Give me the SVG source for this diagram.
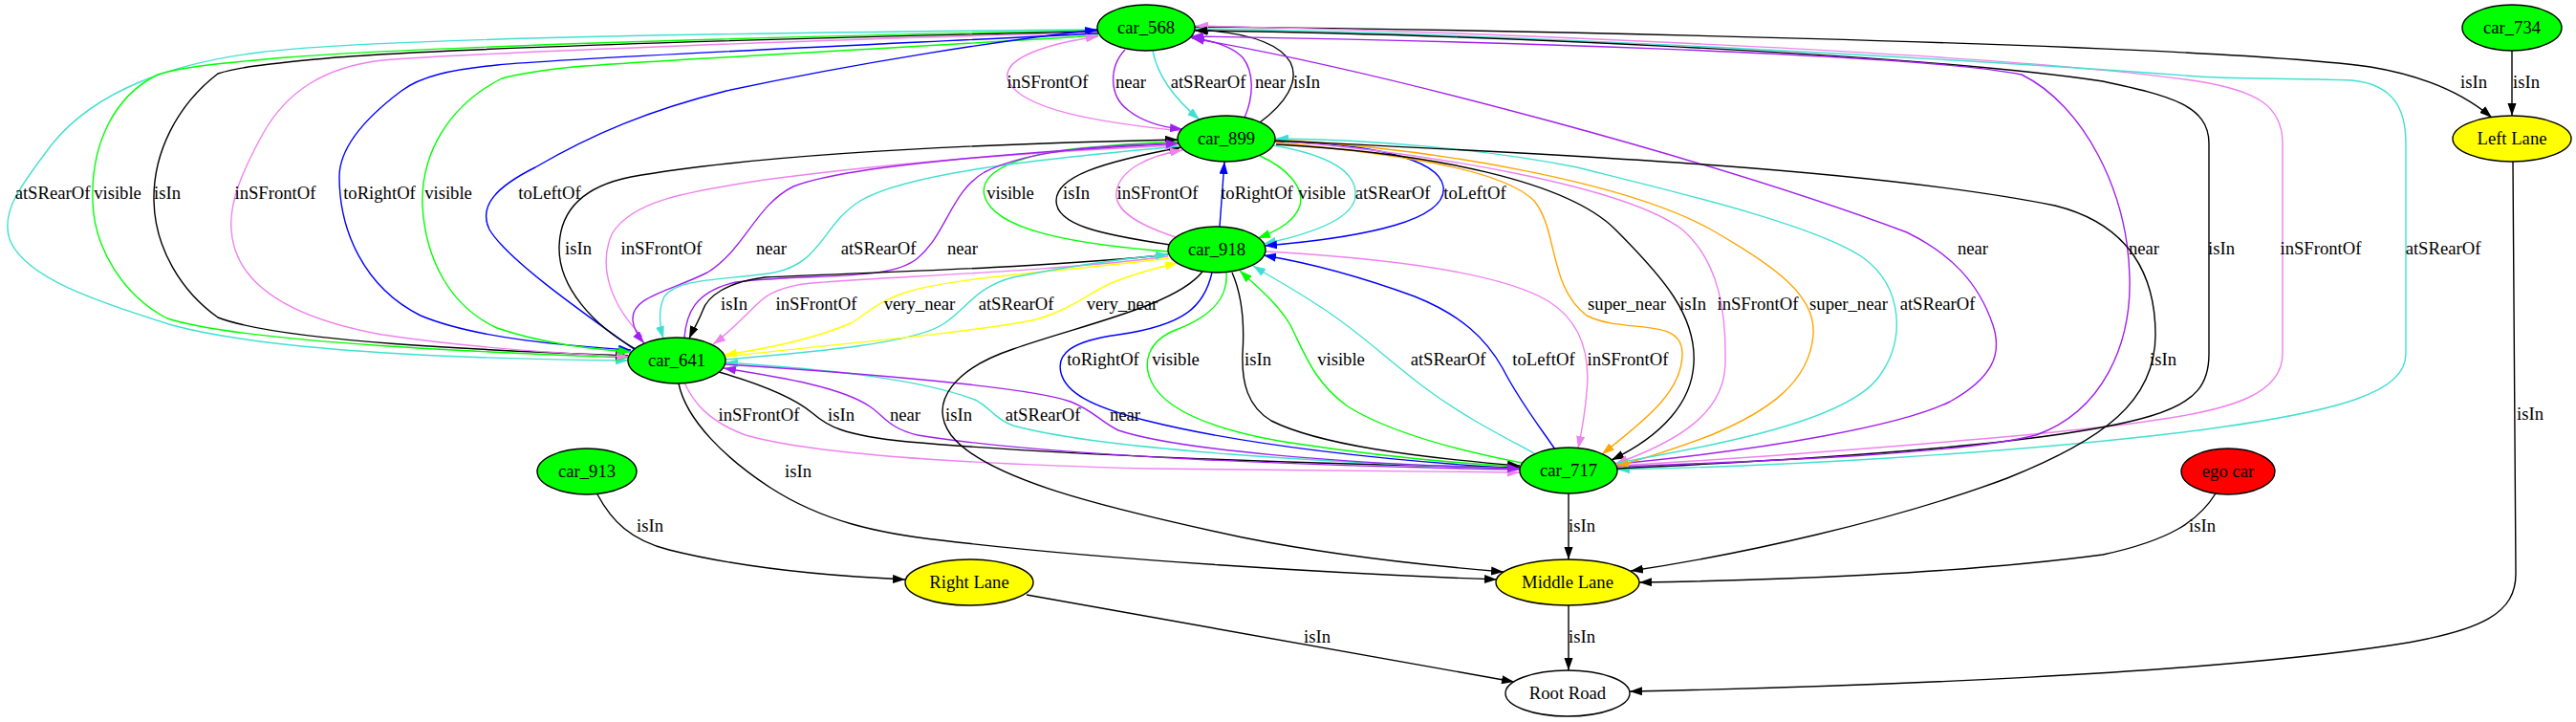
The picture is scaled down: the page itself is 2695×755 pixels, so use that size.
<svg xmlns="http://www.w3.org/2000/svg" width="2695" height="755" viewBox="0 0 2695 755">
<style>
text{font-family:"Liberation Serif","Times New Roman",serif;font-size:18.67px;text-anchor:middle;fill:#000}
.n{stroke:#000;stroke-width:1.4}
.e path{fill:none;stroke-width:1.4}
.k{stroke:#000;marker-end:url(#ak)}
.c{stroke:#40e0d0;marker-end:url(#ac)}
.g{stroke:#00ff00;marker-end:url(#ag)}
.v{stroke:#ee82ee;marker-end:url(#av)}
.b{stroke:#0000ff;marker-end:url(#ab)}
.p{stroke:#a020f0;marker-end:url(#ap)}
.o{stroke:#ffa500;marker-end:url(#ao)}
.y{stroke:#ffff00;marker-end:url(#ay)}
</style>
<defs>
<marker id="ak" viewBox="0 0 10 7" refX="10" refY="3.5" markerWidth="13" markerHeight="9.1" markerUnits="userSpaceOnUse" orient="auto"><path d="M0,0L10,3.5L0,7z" fill="#000"/></marker>
<marker id="ac" viewBox="0 0 10 7" refX="10" refY="3.5" markerWidth="13" markerHeight="9.1" markerUnits="userSpaceOnUse" orient="auto"><path d="M0,0L10,3.5L0,7z" fill="#40e0d0"/></marker>
<marker id="ag" viewBox="0 0 10 7" refX="10" refY="3.5" markerWidth="13" markerHeight="9.1" markerUnits="userSpaceOnUse" orient="auto"><path d="M0,0L10,3.5L0,7z" fill="#00ff00"/></marker>
<marker id="av" viewBox="0 0 10 7" refX="10" refY="3.5" markerWidth="13" markerHeight="9.1" markerUnits="userSpaceOnUse" orient="auto"><path d="M0,0L10,3.5L0,7z" fill="#ee82ee"/></marker>
<marker id="ab" viewBox="0 0 10 7" refX="10" refY="3.5" markerWidth="13" markerHeight="9.1" markerUnits="userSpaceOnUse" orient="auto"><path d="M0,0L10,3.5L0,7z" fill="#0000ff"/></marker>
<marker id="ap" viewBox="0 0 10 7" refX="10" refY="3.5" markerWidth="13" markerHeight="9.1" markerUnits="userSpaceOnUse" orient="auto"><path d="M0,0L10,3.5L0,7z" fill="#a020f0"/></marker>
<marker id="ao" viewBox="0 0 10 7" refX="10" refY="3.5" markerWidth="13" markerHeight="9.1" markerUnits="userSpaceOnUse" orient="auto"><path d="M0,0L10,3.5L0,7z" fill="#ffa500"/></marker>
<marker id="ay" viewBox="0 0 10 7" refX="10" refY="3.5" markerWidth="13" markerHeight="9.1" markerUnits="userSpaceOnUse" orient="auto"><path d="M0,0L10,3.5L0,7z" fill="#ffff00"/></marker>
</defs>
<rect width="2695" height="755" fill="#fff"/>
<g id="edges" class="e">
<!-- car_568 -> car_641 left bundle -->
<path class="c" d="M1149,31 C900,33 400,38 270,55 C180,66 100,95 55,150 C25,190 0,220 10,250 C25,290 100,315 180,340 C300,372 550,376 657,377"/>
<text x="55" y="208">atSRearOf</text>
<path class="g" d="M1149,32 C900,36 450,48 300,60 C230,66 190,70 165,78 C120,100 95,150 97,210 C98,260 130,310 175,333 C260,360 550,370 657,374"/>
<text x="123" y="208">visible</text>
<path class="k" d="M1149,33 C900,38 450,50 330,62 C280,67 250,70 228,77 C185,110 160,160 161,210 C162,260 190,305 228,332 C300,360 560,368 657,372"/>
<text x="175" y="208">isIn</text>
<path class="v" d="M1149,34 C900,40 500,55 400,63 C340,70 300,95 275,140 C250,185 240,215 242,240 C245,290 290,330 400,350 C500,365 600,370 658,373"/>
<text x="288" y="208">inSFrontOf</text>
<path class="b" d="M1149,35 C950,45 600,60 520,68 C470,73 440,80 420,95 C380,125 355,155 355,185 C355,240 380,300 440,330 C500,355 600,362 660,366"/>
<text x="397" y="208">toRightOf</text>
<path class="g" d="M1149,37 C1000,47 700,62 600,70 C560,74 540,78 525,82 C470,110 440,160 442,215 C445,270 470,320 520,343 C570,360 620,365 660,368"/>
<text x="469" y="208">visible</text>
<path class="b" d="M663,365 C600,320 530,270 512,240 C500,215 520,195 560,175 C620,140 680,115 760,95 C900,65 1050,42 1148,31"/>
<text x="575" y="208">toLeftOf</text>
<!-- car_568 <-> car_899 -->
<path class="v" d="M1236,137 C1150,128 1070,115 1055,85 C1045,60 1100,45 1149,38"/>
<text x="1096" y="92">inSFrontOf</text>
<path class="p" d="M1177,52 C1160,70 1160,100 1180,115 C1195,127 1215,133 1237,135"/>
<text x="1183" y="92">near</text>
<path class="c" d="M1206,53 C1210,75 1225,100 1255,125"/>
<text x="1264" y="92">atSRearOf</text>
<path class="p" d="M1302,123 C1312,100 1312,75 1300,60 C1290,50 1275,44 1246,39"/>
<text x="1329" y="92">near</text>
<path class="k" d="M1318,128 C1345,108 1360,85 1350,65 C1335,40 1290,33 1251,31"/>
<text x="1367" y="92">isIn</text>
<!-- to Left Lane -->
<path class="k" d="M1250,28 C1500,30 2300,45 2480,70 C2540,80 2580,100 2607,123"/>
<text x="2588" y="92">isIn</text>
<path class="k" d="M2628,53 L2628,121"/>
<text x="2643" y="92">isIn</text>
<!-- car_568 <-> car_717 right side -->
<path class="v" d="M1692,487 C1850,478 2150,455 2250,440 C2340,428 2388,410 2388,370 L2388,150 C2388,110 2360,95 2300,85 C2100,55 1500,32 1251,27"/>
<text x="2428" y="266">inSFrontOf</text>
<path class="c" d="M1250,30 C1600,35 2100,65 2300,80 C2350,83 2420,82 2460,84 C2505,88 2517,115 2517,150 L2517,370 C2517,410 2450,430 2300,450 C2100,475 1850,488 1692,491"/>
<text x="2556" y="266">atSRearOf</text>
<path class="k" d="M1692,490 C1900,480 2150,465 2250,435 C2300,420 2311,400 2311,370 L2311,150 C2311,110 2270,100 2200,85 C2000,55 1500,35 1250,32"/>
<text x="2324" y="266">isIn</text>
<path class="p" d="M1692,488 C1850,482 2050,475 2130,455 C2200,430 2230,360 2228,290 C2226,200 2180,110 2115,78 C2000,55 1500,42 1246,38"/>
<text x="2243" y="266">near</text>
<path class="p" d="M1692,485 C1850,470 1990,445 2040,420 C2085,395 2095,370 2085,340 C2070,295 2040,265 1995,243 C1800,170 1450,75 1247,40"/>
<text x="2064" y="266">near</text>
<!-- car_899 <-> car_918 -->
<path class="g" d="M1222,263 C1120,255 1040,240 1030,205 C1022,175 1080,160 1130,155 C1170,151 1205,149 1232,148"/>
<text x="1057" y="208">visible</text>
<path class="k" d="M1224,256 C1150,245 1105,235 1105,210 C1105,185 1150,170 1236,154"/>
<text x="1126" y="208">isIn</text>
<path class="v" d="M1230,248 C1190,235 1165,220 1168,200 C1172,178 1200,163 1237,157"/>
<text x="1211" y="208">inSFrontOf</text>
<path class="b" d="M1276,237 L1281,169"/>
<text x="1315" y="208">toRightOf</text>
<path class="g" d="M1318,163 C1345,175 1365,195 1360,215 C1355,230 1340,240 1316,249"/>
<text x="1383" y="208">visible</text>
<path class="c" d="M1332,152 C1390,162 1420,180 1418,205 C1416,230 1370,245 1322,255"/>
<text x="1457" y="208">atSRearOf</text>
<path class="b" d="M1334,148 C1430,150 1505,165 1510,195 C1515,230 1430,248 1323,257"/>
<text x="1543" y="208">toLeftOf</text>
<!-- car_899 <-> car_641 -->
<path class="k" d="M665,365 C620,340 585,300 585,260 C585,220 610,195 660,185 C800,160 1050,150 1232,146"/>
<text x="605" y="266">isIn</text>
<path class="v" d="M672,352 C640,320 625,280 640,245 C660,210 720,200 800,188 C950,168 1100,158 1232,152"/>
<text x="692" y="266">inSFrontOf</text>
<path class="p" d="M1233,150 C1050,160 880,175 830,195 C790,215 780,260 740,285 C700,305 660,310 662,335 C663,345 668,352 674,359"/>
<text x="807" y="266">near</text>
<path class="c" d="M1234,153 C1100,165 950,180 900,210 C860,235 860,275 810,285 C760,293 710,290 695,310 C688,325 690,340 694,354"/>
<text x="919" y="266">atSRearOf</text>
<path class="p" d="M716,353 C718,330 725,305 770,295 C850,285 930,295 960,270 C990,245 995,200 1030,180 C1080,155 1160,152 1233,150"/>
<text x="1007" y="266">near</text>
<!-- car_918 <-> car_641 -->
<path class="k" d="M1222,266 C1100,280 900,285 800,290 C760,295 740,310 735,325 C730,338 725,345 721,354"/>
<text x="768" y="324">isIn</text>
<path class="v" d="M1222,268 C1100,285 900,290 840,297 C810,302 800,310 790,320 C775,335 760,350 746,360"/>
<text x="854" y="324">inSFrontOf</text>
<path class="y" d="M1223,270 C1100,285 1000,290 950,305 C915,316 905,330 890,338 C850,355 800,365 758,371"/>
<text x="962" y="324">very_near</text>
<path class="c" d="M759,376 C850,368 950,360 985,340 C1010,325 1020,300 1060,290 C1120,278 1180,270 1222,266"/>
<text x="1063" y="324">atSRearOf</text>
<path class="y" d="M759,373 C850,362 1000,350 1080,335 C1120,325 1140,305 1165,295 C1190,285 1210,280 1232,275"/>
<text x="1174" y="324">very_near</text>
<!-- car_899 <-> car_717 -->
<path class="o" d="M1335,149 C1450,160 1570,175 1605,210 C1630,240 1620,300 1660,330 C1700,350 1760,330 1760,370 C1760,410 1720,440 1676,475"/>
<text x="1702" y="324">super_near</text>
<path class="k" d="M1335,151 C1500,160 1640,190 1690,240 C1740,290 1775,330 1772,380 C1770,420 1740,455 1686,481"/>
<text x="1771" y="324">isIn</text>
<path class="v" d="M1334,147 C1500,160 1700,195 1760,240 C1800,275 1806,330 1805,380 C1804,430 1760,460 1690,485"/>
<text x="1839" y="324">inSFrontOf</text>
<path class="o" d="M1335,146 C1500,155 1700,190 1790,240 C1860,280 1900,310 1897,350 C1893,400 1850,430 1790,455 C1750,470 1720,480 1691,487"/>
<text x="1934" y="324">super_near</text>
<path class="c" d="M1692,484 C1800,465 1930,440 1965,395 C1995,355 1990,300 1950,270 C1900,235 1750,200 1650,175 C1550,155 1430,146 1335,145"/>
<text x="2027" y="324">atSRearOf</text>
<!-- car_918 <-> car_717 -->
<path class="b" d="M1268,285 C1260,320 1240,340 1170,350 C1120,357 1105,370 1110,390 C1115,410 1140,425 1200,440 C1300,465 1450,482 1591,490"/>
<text x="1154" y="382">toRightOf</text>
<path class="g" d="M1283,285 C1285,310 1270,330 1230,345 C1200,357 1195,380 1205,400 C1220,430 1270,450 1350,463 C1450,478 1530,485 1591,488"/>
<text x="1230" y="382">visible</text>
<path class="k" d="M1289,285 C1300,310 1302,340 1300,370 C1299,400 1305,425 1330,440 C1380,465 1480,478 1590,487"/>
<text x="1316" y="382">isIn</text>
<path class="g" d="M1592,484 C1520,470 1450,450 1410,425 C1375,400 1365,370 1350,340 C1335,315 1315,300 1297,283"/>
<text x="1403" y="382">visible</text>
<path class="c" d="M1605,474 C1570,455 1530,435 1490,405 C1450,375 1420,345 1380,320 C1350,300 1330,290 1311,278"/>
<text x="1515" y="382">atSRearOf</text>
<path class="b" d="M1627,470 C1610,445 1590,420 1572,385 C1555,355 1530,330 1480,310 C1420,288 1370,275 1322,267"/>
<text x="1615" y="382">toLeftOf</text>
<path class="v" d="M1324,263 C1450,270 1570,285 1620,315 C1660,340 1663,380 1660,410 C1658,435 1655,450 1651,469"/>
<text x="1703" y="382">inSFrontOf</text>
<!-- car_641 <-> car_717 -->
<path class="v" d="M716,400 C725,420 740,440 780,455 C850,475 1000,485 1200,490 C1400,493 1500,494 1590,494"/>
<text x="794" y="440">inSFrontOf</text>
<path class="k" d="M752,389 C790,400 830,415 850,432 C865,445 880,455 950,462 C1100,475 1350,485 1590,489"/>
<text x="880" y="440">isIn</text>
<path class="p" d="M1590,491 C1400,488 1100,478 960,455 C930,448 925,435 910,425 C880,405 820,395 757,385"/>
<text x="947" y="440">near</text>
<path class="c" d="M1590,490 C1400,485 1150,470 1060,445 C1040,438 1035,425 1020,418 C960,395 850,385 759,379"/>
<text x="1091" y="440">atSRearOf</text>
<path class="p" d="M759,381 C900,390 1080,405 1120,420 C1145,430 1150,440 1170,450 C1230,470 1400,485 1590,490"/>
<text x="1177" y="440">near</text>
<!-- lanes and road -->
<path class="k" d="M710,401 C718,440 760,480 806,510 C860,545 920,558 985,565 C1150,585 1400,600 1566,606"/>
<text x="835" y="499">isIn</text>
<path class="k" d="M1258,284 C1230,320 1130,340 1060,365 C1000,385 970,420 995,455 C1030,500 1150,530 1300,562 C1400,582 1500,592 1573,598"/>
<text x="1003" y="440">isIn</text>
<path class="k" d="M1334,147 C1600,160 1950,175 2150,215 C2230,235 2255,290 2255,350 C2255,420 2200,460 2100,500 C1980,545 1820,580 1706,597"/>
<text x="2263" y="382">isIn</text>
<path class="k" d="M2318,516 C2300,545 2270,565 2200,580 C2050,600 1850,607 1715,609"/>
<text x="2304" y="556">isIn</text>
<path class="k" d="M1641,516 L1641,585"/>
<text x="1655" y="556">isIn</text>
<path class="k" d="M1641,633 L1641,701"/>
<text x="1655" y="672">isIn</text>
<path class="k" d="M1074,622 L1584,713"/>
<text x="1378" y="672">isIn</text>
<path class="k" d="M2629,169 L2632,600 C2632,640 2600,660 2500,675 C2300,705 1950,718 1705,723"/>
<text x="2647" y="439">isIn</text>
<path class="k" d="M625,517 C640,545 660,565 700,575 C780,595 880,603 947,606"/>
<text x="680" y="556">isIn</text>
</g>
<g id="car_568"><ellipse class="n" cx="1199" cy="29" rx="51" ry="24" fill="#00ff00"/><text x="1199" y="35">car_568</text></g>
<g id="car_899"><ellipse class="n" cx="1283" cy="145" rx="51" ry="24" fill="#00ff00"/><text x="1283" y="151">car_899</text></g>
<g id="car_918"><ellipse class="n" cx="1273" cy="261" rx="51" ry="24" fill="#00ff00"/><text x="1273" y="267">car_918</text></g>
<g id="car_641"><ellipse class="n" cx="708" cy="377" rx="51" ry="24" fill="#00ff00"/><text x="708" y="383">car_641</text></g>
<g id="car_717"><ellipse class="n" cx="1641" cy="492" rx="51" ry="24" fill="#00ff00"/><text x="1641" y="498">car_717</text></g>
<g id="car_913"><ellipse class="n" cx="614" cy="493" rx="52" ry="24" fill="#00ff00"/><text x="614" y="499">car_913</text></g>
<g id="car_734"><ellipse class="n" cx="2628" cy="29" rx="52" ry="24" fill="#00ff00"/><text x="2628" y="35">car_734</text></g>
<g id="ego_car"><ellipse class="n" cx="2331" cy="493" rx="49" ry="24" fill="#ff0000"/><text x="2331" y="499">ego car</text></g>
<g id="left_lane"><ellipse class="n" cx="2628" cy="145" rx="62" ry="24" fill="#ffff00"/><text x="2628" y="151">Left Lane</text></g>
<g id="middle_lane"><ellipse class="n" cx="1640" cy="609" rx="75" ry="24" fill="#ffff00"/><text x="1640" y="615">Middle Lane</text></g>
<g id="right_lane"><ellipse class="n" cx="1014" cy="609" rx="67" ry="24" fill="#ffff00"/><text x="1014" y="615">Right Lane</text></g>
<g id="root_road"><ellipse class="n" cx="1640" cy="725" rx="65" ry="24" fill="#ffffff"/><text x="1640" y="731">Root Road</text></g>
</svg>
